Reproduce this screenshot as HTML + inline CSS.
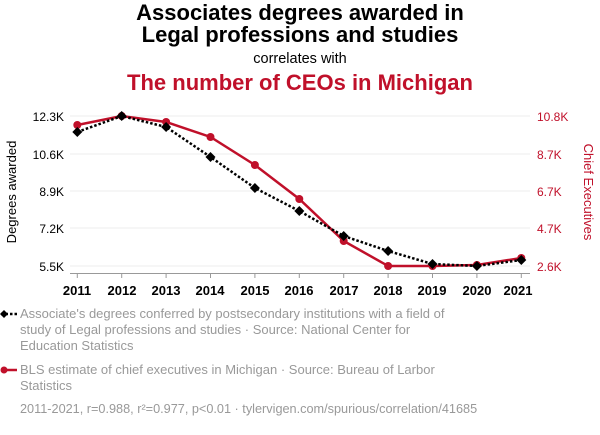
<!DOCTYPE html>
<html><head><meta charset="utf-8"><style>
body{margin:0;background:#fff;width:600px;height:430px;overflow:hidden;font-family:"Liberation Sans",sans-serif}
</style></head><body>
<svg width="600" height="430" xmlns="http://www.w3.org/2000/svg" font-family="Liberation Sans, sans-serif">
<text x="300" y="20" text-anchor="middle" font-size="22" font-weight="bold" fill="#000">Associates degrees awarded in</text>
<text x="300" y="42" text-anchor="middle" font-size="22" font-weight="bold" fill="#000">Legal professions and studies</text>
<text x="300" y="63" text-anchor="middle" font-size="14.5" fill="#000">correlates with</text>
<text x="300" y="90" text-anchor="middle" font-size="22" font-weight="bold" fill="#c0102a">The number of CEOs in Michigan</text>
<g stroke="#eee" stroke-width="1">
<line x1="70" x2="530" y1="116" y2="116"/><line x1="70" x2="530" y1="154" y2="154"/><line x1="70" x2="530" y1="191" y2="191"/><line x1="70" x2="530" y1="228" y2="228"/><line x1="70" x2="530" y1="266" y2="266"/>
</g>
<line x1="70" x2="530" y1="273.5" y2="273.5" stroke="#999"/>
<g stroke="#999">
<line x1="77.3" x2="77.3" y1="273" y2="278"/><line x1="121.7" x2="121.7" y1="273" y2="278"/><line x1="166.1" x2="166.1" y1="273" y2="278"/><line x1="210.5" x2="210.5" y1="273" y2="278"/><line x1="254.9" x2="254.9" y1="273" y2="278"/><line x1="299.3" x2="299.3" y1="273" y2="278"/><line x1="343.7" x2="343.7" y1="273" y2="278"/><line x1="388.1" x2="388.1" y1="273" y2="278"/><line x1="432.5" x2="432.5" y1="273" y2="278"/><line x1="476.9" x2="476.9" y1="273" y2="278"/><line x1="521.3" x2="521.3" y1="273" y2="278"/>
</g>
<g font-size="13" font-weight="bold" fill="#000" text-anchor="middle">
<text x="77" y="295">2011</text><text x="122" y="295">2012</text><text x="166" y="295">2013</text><text x="210" y="295">2014</text><text x="255" y="295">2015</text><text x="299" y="295">2016</text><text x="344" y="295">2017</text><text x="388" y="295">2018</text><text x="432" y="295">2019</text><text x="477" y="295">2020</text><text x="518" y="295">2021</text>
</g>
<g font-size="12" fill="#000" text-anchor="end">
<text x="64" y="121">12.3K</text><text x="64" y="159">10.6K</text><text x="64" y="196">8.9K</text><text x="64" y="233">7.2K</text><text x="64" y="271">5.5K</text>
</g>
<g font-size="12" fill="#c0102a">
<text x="537" y="121">10.8K</text><text x="537" y="159">8.7K</text><text x="537" y="196">6.7K</text><text x="537" y="233">4.7K</text><text x="537" y="271">2.6K</text>
</g>
<text transform="translate(16,192) rotate(-90)" text-anchor="middle" font-size="13" fill="#000">Degrees awarded</text>
<text transform="translate(584,192) rotate(90)" text-anchor="middle" font-size="13" fill="#c0102a">Chief Executives</text>
<polyline fill="none" stroke="#c0102a" stroke-width="2.5" points="77.3,125 121.7,116 166.1,122 210.5,137 254.9,165 299.3,199 343.7,241 388.1,266 432.5,266 476.9,265 521.3,258"/>
<g fill="#c0102a">
<circle cx="77.3" cy="125" r="4"/><circle cx="121.7" cy="116" r="4"/><circle cx="166.1" cy="122" r="4"/><circle cx="210.5" cy="137" r="4"/><circle cx="254.9" cy="165" r="4"/><circle cx="299.3" cy="199" r="4"/><circle cx="343.7" cy="241" r="4"/><circle cx="388.1" cy="266" r="4"/><circle cx="432.5" cy="266" r="4"/><circle cx="476.9" cy="265" r="4"/><circle cx="521.3" cy="258" r="4"/>
</g>
<polyline fill="none" stroke="#000" stroke-width="2.5" stroke-dasharray="2.5,2" points="77.3,132 121.7,116 166.1,127 210.5,157 254.9,188 299.3,211 343.7,236 388.1,251 432.5,264 476.9,266 521.3,260"/>
<g fill="#000">
<path d="M77.3,127l5,5-5,5-5-5z"/><path d="M121.7,111l5,5-5,5-5-5z"/><path d="M166.1,122l5,5-5,5-5-5z"/><path d="M210.5,152l5,5-5,5-5-5z"/><path d="M254.9,183l5,5-5,5-5-5z"/><path d="M299.3,206l5,5-5,5-5-5z"/><path d="M343.7,231l5,5-5,5-5-5z"/><path d="M388.1,246l5,5-5,5-5-5z"/><path d="M432.5,259l5,5-5,5-5-5z"/><path d="M476.9,261l5,5-5,5-5-5z"/><path d="M521.3,255l5,5-5,5-5-5z"/>
</g>
<line x1="1" x2="17" y1="314" y2="314" stroke="#000" stroke-width="2.5" stroke-dasharray="2.5,2"/>
<path d="M4,310l4,4-4,4-4-4z" fill="#000"/>
<g font-size="13" fill="#999">
<text x="20" y="318">Associate's degrees conferred by postsecondary institutions with a field of</text>
<text x="20" y="334">study of Legal professions and studies · Source: National Center for</text>
<text x="20" y="350">Education Statistics</text>
<text x="20" y="374">BLS estimate of chief executives in Michigan · Source: Bureau of Larbor</text>
<text x="20" y="390">Statistics</text>
<text x="20" y="413" font-size="12.7">2011-2021, r=0.988, r²=0.977, p&lt;0.01 · tylervigen.com/spurious/correlation/41685</text>
</g>
<line x1="1" x2="17" y1="370" y2="370" stroke="#c0102a" stroke-width="2.5"/>
<circle cx="4" cy="370" r="3.5" fill="#c0102a"/>
</svg>
</body></html>
